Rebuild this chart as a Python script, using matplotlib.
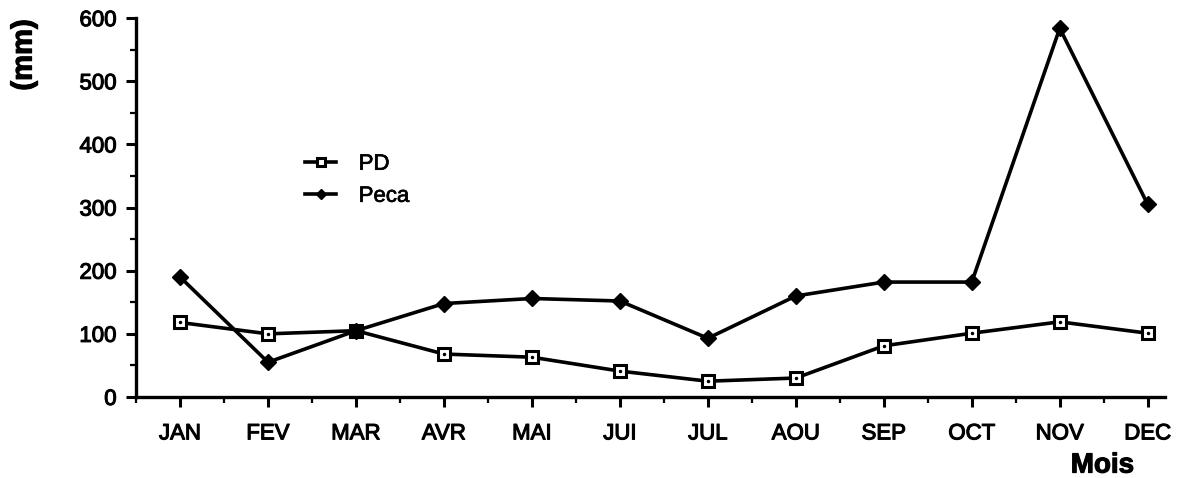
import matplotlib
matplotlib.use("Agg")
import matplotlib.pyplot as plt
import matplotlib.patheffects as pe
from matplotlib.ticker import MultipleLocator

# pluie mensuelle (mm) : PD et Peca
mois = ["JAN", "FEV", "MAR", "AVR", "MAI", "JUI", "JUL", "AOU", "SEP", "OCT", "NOV", "DEC"]
pd_mm = [118, 100, 105, 68, 63, 41, 25, 30, 81, 101, 119, 101]
peca_mm = [190, 55, 105, 148, 156, 152, 93, 160, 182, 182, 584, 305]

plt.rcParams["font.family"] = ["Liberation Sans", "DejaVu Sans"]

fig = plt.figure(figsize=(11.79, 4.78), dpi=100)
ax = fig.add_axes([0.1154, 0.1695, 0.873, 0.7925])
x = range(len(mois))

ax.plot(x, pd_mm, color="black", lw=2.6, marker="s", ms=9, mfc="white",
        mec="black", mew=2.2, label="PD", zorder=3)
ax.plot(x, pd_mm, ls="none", marker=".", ms=3, color="black", zorder=4)
ax.plot(x, peca_mm, color="black", lw=2.6, marker="D", ms=8, mfc="black",
        mec="black", label="Peca", zorder=3)

ax.set_xlim(-0.5, 11.2)
ax.set_ylim(0, 600)
ax.set_xticks(list(x))
ax.set_xticklabels(mois)
ax.xaxis.set_minor_locator(MultipleLocator(0.5))
ax.yaxis.set_major_locator(MultipleLocator(100))
ax.yaxis.set_minor_locator(MultipleLocator(50))

for s in ("top", "right"):
    ax.spines[s].set_visible(False)
for s in ("left", "bottom"):
    ax.spines[s].set_linewidth(2.4)
ax.tick_params(which="major", length=7, width=2.2, labelsize=16)
ax.tick_params(which="minor", length=4, width=1.6)
ax.tick_params(axis="x", pad=12)
ax.tick_params(axis="y", pad=7)

# libellés un peu plus gras
heavy = [pe.withStroke(linewidth=0.8, foreground="black")]
for lab in ax.get_xticklabels() + ax.get_yticklabels():
    lab.set_path_effects(heavy)

fig.text(0.02, 0.885, "(mm)", rotation=90, ha="center", va="center",
         fontsize=21, fontweight="bold", path_effects=heavy)
fig.text(0.935, 0.026, "Mois", ha="center", va="center",
         fontsize=20, fontweight="bold", path_effects=heavy)

leg = ax.legend(loc="upper left", bbox_to_anchor=(0.145, 0.695), frameon=False,
                fontsize=16, handlelength=1.4, handletextpad=1.0,
                labelspacing=0.5, markerscale=0.7)
for t in leg.get_texts():
    t.set_path_effects([pe.withStroke(linewidth=0.5, foreground="black")])

fig.savefig("out.png", dpi=100)
